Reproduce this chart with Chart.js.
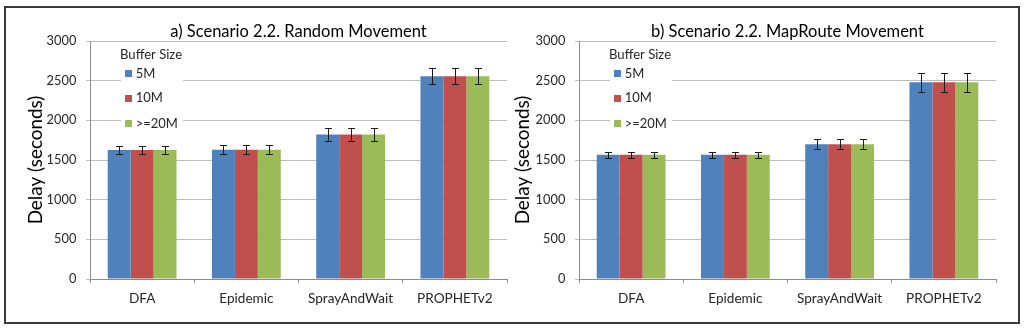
<!DOCTYPE html>
<html><head><meta charset="utf-8">
<script src="https://cdn.jsdelivr.net/npm/chart.js@4.4.0/dist/chart.umd.min.js"></script>
<style>
html,body{margin:0;padding:0;background:#fff;}
#wrap{position:relative;width:1024px;height:331px;overflow:hidden;background:#fff;}
#frame{position:absolute;left:4px;top:6px;width:1012px;height:314px;border:2px solid #3a3a3a;}
.c{position:absolute;top:0;width:512px;height:331px;}
</style></head><body>
<div id="wrap"><div id="frame"></div>
<div class="c" style="left:0"><canvas id="ca" width="512" height="331"></canvas></div>
<div class="c" style="left:489px"><canvas id="cb" width="512" height="331"></canvas></div>
</div>
<script>
// ---- data ----
const categories = ['DFA', 'Epidemic', 'SprayAndWait', 'PROPHETv2'];
const seriesNames = ['5M', '10M', '>=20M'];
const seriesColors = ['#4F81BD', '#C0504D', '#9BBB59'];
const legendTitle = 'Buffer Size';
const yAxisTitle = 'Delay (seconds)';
const yTicks = [0, 500, 1000, 1500, 2000, 2500, 3000];

const titleA = 'a) Scenario 2.2. Random Movement';
const randomDelay5M  = [1625, 1630, 1820, 2555];
const randomDelay10M = [1625, 1630, 1820, 2555];
const randomDelay20M = [1625, 1630, 1820, 2555];
const randomErr5M  = [50, 55, 80, 100];
const randomErr10M = [50, 55, 80, 100];
const randomErr20M = [50, 55, 80, 100];

const titleB = 'b) Scenario 2.2. MapRoute Movement';
const mapDelay5M  = [1565, 1565, 1700, 2480];
const mapDelay10M = [1565, 1565, 1700, 2480];
const mapDelay20M = [1565, 1565, 1700, 2480];
const mapErr5M  = [40, 40, 60, 120];
const mapErr10M = [40, 40, 60, 120];
const mapErr20M = [40, 40, 60, 120];

const FAMILY = 'Lato';
Chart.defaults.font.family = FAMILY;

// font sizes fitted to the reference's text widths
const mctx = document.createElement('canvas').getContext('2d');
function fit(text, width) {
  mctx.font = '100px ' + FAMILY;
  return Math.round(width / mctx.measureText(text).width * 1000) / 10;
}
const fsTitle  = fit(titleA, 257);
const fsYTitle = fit(yAxisTitle, 129);
const fsX      = fit('SprayAndWait', 85);
const fsTick   = fit('3000', 29.6);
const fsLegT   = fit(legendTitle, 62);
const fsLegI   = fit('>=20M', 42.3);

const errorBarPlugin = {
  id: 'errorBars',
  afterDatasetsDraw(chart) {
    const ctx = chart.ctx, ys = chart.scales.y;
    ctx.save();
    ctx.strokeStyle = '#1a1a1a';
    ctx.lineWidth = 1;
    chart.data.datasets.forEach((ds, i) => {
      const meta = chart.getDatasetMeta(i);
      meta.data.forEach((bar, j) => {
        const v = ds.data[j], e = ds.errors[j];
        const x = Math.round(bar.x) + 0.5;
        const yt = Math.round(ys.getPixelForValue(v + e)) + 0.5;
        const yb = Math.round(ys.getPixelForValue(v - e)) + 0.5;
        ctx.beginPath();
        ctx.moveTo(x, yt); ctx.lineTo(x, yb);
        ctx.moveTo(x - 3.5, yt); ctx.lineTo(x + 3.5, yt);
        ctx.moveTo(x - 3.5, yb); ctx.lineTo(x + 3.5, yb);
        ctx.stroke();
      });
    });
    ctx.restore();
  }
};

const boxLegendPlugin = {
  id: 'boxLegend',
  afterDraw(chart) {
    const ctx = chart.ctx, a = chart.chartArea;
    ctx.save();
    ctx.fillStyle = '#fff';
    ctx.fillRect(a.left + 31, a.top + 4, 62, 90);
    ctx.fillStyle = '#262626';
    ctx.textBaseline = 'middle';
    ctx.textAlign = 'left';
    ctx.font = fsLegT + 'px ' + FAMILY;
    ctx.fillText(legendTitle, a.left + 30, a.top + 14);
    const rows = [32.5, 57, 82.5];
    chart.data.datasets.forEach((ds, i) => {
      const cy = a.top + rows[i];
      ctx.fillStyle = ds.backgroundColor;
      ctx.fillRect(a.left + 35, Math.round(cy - 3.5), 7, 7);
      ctx.fillStyle = '#262626';
      ctx.font = fsLegI + 'px ' + FAMILY;
      ctx.fillText(ds.label, a.left + 45.7, cy);
    });
    ctx.restore();
  }
};

function makeChart(id, title, values, errors, yTitleCenter) {
  const padLeft = yTitleCenter - 4 - 0.6 * fsYTitle;
  return new Chart(document.getElementById(id), {
    type: 'bar',
    data: {
      labels: categories,
      datasets: seriesNames.map((n, i) => ({
        label: n,
        data: values[i],
        errors: errors[i],
        backgroundColor: seriesColors[i],
        borderWidth: 0,
        categoryPercentage: 0.66,
        barPercentage: 1.0
      }))
    },
    options: {
      responsive: false,
      animation: false,
      layout: { padding: { left: padLeft, right: 5, top: 0, bottom: 0 } },
      plugins: {
        legend: { display: false },
        tooltip: { enabled: false },
        title: {
          display: true, text: title, fullSize: false,
          font: { family: FAMILY, size: fsTitle, weight: 'normal', lineHeight: 1 },
          color: '#000',
          padding: { top: 31.5 - fsTitle / 2, bottom: 9.5 - fsTitle / 2 }
        }
      },
      scales: {
        x: {
          grid: { display: true, drawOnChartArea: false, drawTicks: true, tickLength: 4, color: '#8c8c8c', offset: true },
          border: { color: '#8c8c8c' },
          ticks: { padding: 15.3 - 0.6 * fsX, font: { size: fsX }, color: '#262626' },
          afterFit(s) { s.height = 52; }
        },
        y: {
          min: 0, max: 3000,
          afterBuildTicks(s) { s.ticks = yTicks.map(v => ({ value: v })); },
          ticks: { padding: 9.7, font: { size: fsTick }, color: '#262626', callback: v => String(v) },
          grid: { color: '#bdbdbd', tickLength: 4 },
          border: { color: '#8c8c8c' },
          title: { display: true, text: yAxisTitle, font: { size: fsYTitle }, color: '#000', padding: { top: 4, bottom: 4 } },
          afterFit(s) { s.width = 90 - padLeft; }
        }
      }
    },
    plugins: [errorBarPlugin, boxLegendPlugin]
  });
}

makeChart('ca', titleA, [randomDelay5M, randomDelay10M, randomDelay20M], [randomErr5M, randomErr10M, randomErr20M], 36);
makeChart('cb', titleB, [mapDelay5M, mapDelay10M, mapDelay20M], [mapErr5M, mapErr10M, mapErr20M], 33.8);
</script>
</body></html>
